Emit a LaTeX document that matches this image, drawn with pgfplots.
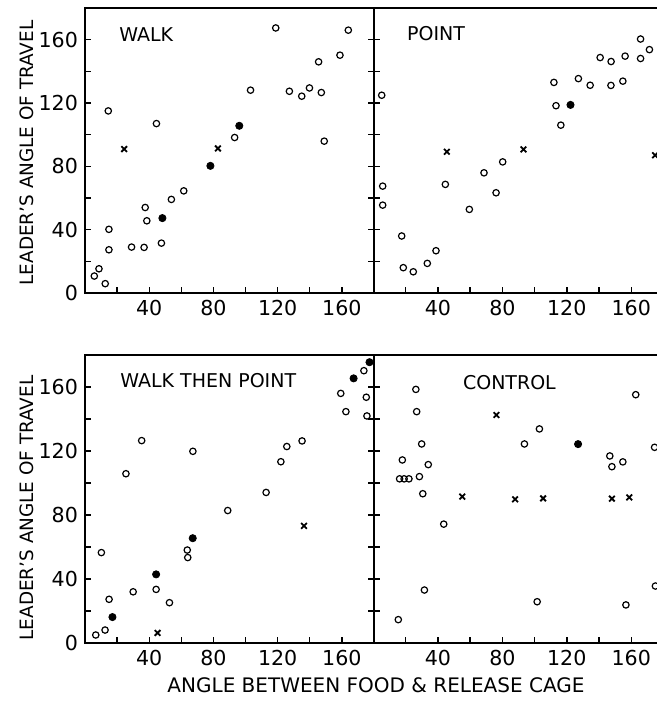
\documentclass[border=0pt]{standalone}
\usepackage{fontspec}
\setmainfont{DejaVu Sans}
\usepackage{pgfplots}
\pgfplotsset{compat=1.18}

% 1px of the scan = 0.5pt
\pgfplotsset{
  panel/.style={
    scale only axis, anchor=south west,
    xmin=0, ymin=0, ymax=180,
    axis line style={line width=0.9pt},
    tick style={line width=0.7pt, black},
    tick align=inside,
    major tick length=3pt, minor tick length=3pt,
    xtick={40,80,120,160}, minor xtick={20,60,100,140},
    ytick={0,40,80,120,160}, minor ytick={20,60,100,140},
    xtick pos=left,
    tick label style={font=\fontsize{10.3}{12}\selectfont},
    /pgf/number format/assume math mode=true,
    clip=false,
  },
  rightpanel/.style={
    yticklabels={}, axis x line*=box, axis y line*=left,
    xtick pos=left, ytick pos=left,
  },
  opn/.style={only marks, mark=o, mark size=1.6pt, mark options={line width=0.6pt, black}},
  fld/.style={only marks, mark=*, mark size=1.8pt, mark options={black, fill=black}},
  crs/.style={only marks, mark=x, mark size=2pt, mark options={line width=0.9pt, black}},
}
\tikzset{ttl/.style={anchor=west, font=\fontsize{9.5}{11}\selectfont}}

\begin{document}
\begin{tikzpicture}
\path[use as bounding box] (0,0) rectangle (328.5pt,353pt);

% WALK
\begin{axis}[panel, at={(42.5pt,206.5pt)}, width=144.5pt, height=142.5pt, xmax=180]
\addplot[opn] coordinates {(5.8,10.7) (8.7,15.3) (12.6,5.9) (14.9,27.3) (14.9,40.2) (14.5,115)
  (29,29) (36.8,28.8) (37.5,54) (38.5,45.6) (44.5,107) (47.6,31.5) (53.8,59.1) (61.5,64.5)
  (93.2,98.2) (103.1,128.1) (118.8,167.4) (127.3,127.4) (135,124.3) (139.8,129.5)
  (145.5,146) (147.2,126.6) (149,95.9) (158.8,150.2) (164,166)};
\addplot[fld] coordinates {(48.2,47.3) (78.1,80.3) (96.1,105.6)};
\addplot[crs] coordinates {(24.4,90.9) (82.8,91.3)};
\node[ttl] at (axis cs:17,163) {WALK};
\end{axis}

% POINT
\begin{axis}[panel, rightpanel, at={(186.75pt,206.5pt)}, width=141.75pt, height=142.5pt, xmax=176]
\addplot[opn] coordinates {(5.1,124.9) (5.7,67.5) (5.7,55.5) (17.5,36) (18.5,16) (24.7,13.4)
  (33.4,18.7) (38.8,26.7) (44.6,68.6) (59.5,52.8) (68.6,75.9) (76.1,63.3) (80.2,82.8)
  (112,133) (113.3,118.3) (116.3,106) (127.2,135.4) (134.5,131.2) (140.7,148.7)
  (147.5,146.2) (147.4,131.1) (154.8,133.8) (156.2,149.6) (165.8,148.1) (165.8,160.4)
  (171.3,153.7)};
\addplot[fld] coordinates {(122.3,118.8)};
\addplot[crs] coordinates {(45.5,89.2) (93.1,90.7) (174.8,87)};
\node[ttl] at (axis cs:16.5,164) {POINT};
\end{axis}

% WALK THEN POINT
\begin{axis}[panel, at={(42.5pt,31.5pt)}, width=144.5pt, height=144pt, xmax=180]
\addplot[opn] coordinates {(6.7,5) (12.5,8.1) (15,27.3) (10.2,56.5) (25.5,105.8) (30,32)
  (35.3,126.5) (44.3,33.5) (52.6,25.2) (63.7,58.1) (64,53.4) (67.2,119.8) (88.9,82.8)
  (112.8,94.1) (122,113.3) (125.7,122.8) (135.2,126.3) (159.3,156) (162.5,144.6)
  (173.7,170.2) (175.2,153.6) (175.6,141.9)};
\addplot[fld] coordinates {(17.1,16.2) (44.3,42.9) (67.1,65.5) (167.3,165.4) (177.2,175.5)};
\addplot[crs] coordinates {(45.2,6.3) (136.4,73.2)};
\node[ttl] at (axis cs:17.6,164) {WALK THEN POINT};
\end{axis}

% CONTROL
\begin{axis}[panel, rightpanel, at={(186.75pt,31.5pt)}, width=141.75pt, height=144pt, xmax=176]
\addplot[opn] coordinates {(15.4,14.6) (17.9,114.4) (16.2,102.6) (19,102.6) (22,102.6)
  (28.5,104) (26.3,158.5) (26.8,144.6) (29.9,124.4) (34,111.5) (30.6,93.3) (31.6,33.1)
  (43.6,74.3) (93.7,124.4) (103,133.8) (101.6,25.8) (146.7,116.9) (148,110.2)
  (154.8,113.2) (156.7,23.8) (162.8,155.2) (174.5,122.3) (175,35.6)};
\addplot[fld] coordinates {(127,124.3)};
\addplot[crs] coordinates {(55.1,91.5) (76.3,142.5) (87.9,89.8) (105.3,90.4) (148,90.2) (158.8,91)};
\node[ttl] at (axis cs:51.2,162.7) {CONTROL};
\end{axis}

\node[rotate=90, font=\fontsize{9.2}{11}\selectfont] at (13.5pt,276.5pt) {LEADER'S ANGLE OF TRAVEL};
\node[rotate=90, font=\fontsize{9.2}{11}\selectfont] at (13.5pt,99pt) {LEADER'S ANGLE OF TRAVEL};
\node[font=\fontsize{10}{12}\selectfont] at (188pt,10.5pt) {ANGLE BETWEEN FOOD \& RELEASE CAGE};
\end{tikzpicture}
\end{document}
